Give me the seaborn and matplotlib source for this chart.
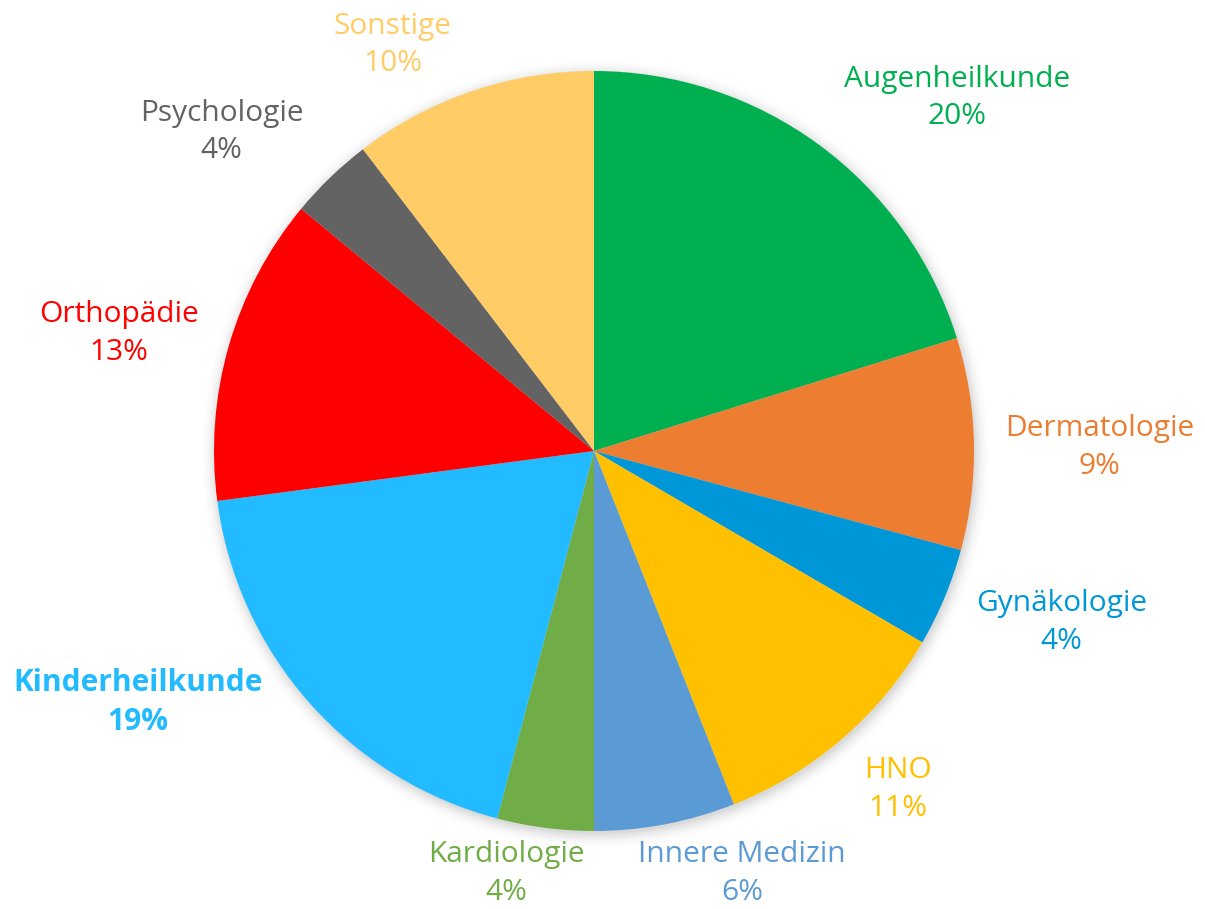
import matplotlib.pyplot as plt
import numpy as np
import seaborn as sns

# Anteile je Fachrichtung (im Uhrzeigersinn ab 12 Uhr)
categories = [
    "Augenheilkunde",
    "Dermatologie",
    "Gynäkologie",
    "HNO",
    "Innere Medizin",
    "Kardiologie",
    "Kinderheilkunde",
    "Orthopädie",
    "Psychologie",
    "Sonstige",
]
shares = [20.2, 9.0, 4.2, 10.6, 6.0, 4.1, 18.8, 13.1, 3.6, 10.4]
colors = [
    "#00B050",
    "#ED7D31",
    "#0097D9",
    "#FFC000",
    "#5B9BD5",
    "#70AD47",
    "#22BBFF",
    "#FF0000",
    "#636363",
    "#FFCC66",
]
bold = ["Kinderheilkunde"]

# Label-Positionen in Radius-Einheiten (x, y relativ zur Mitte)
label_pos = [
    (0.955, 0.929),
    (1.33, 0.009),
    (1.23, -0.451),
    (0.80, -0.891),
    (0.39, -1.112),
    (-0.23, -1.112),
    (-1.20, -0.661),
    (-1.25, 0.309),
    (-0.98, 0.839),
    (-0.53, 1.069),
]

sns.set_theme(style="white")
plt.rcParams["font.family"] = ["Open Sans", "DejaVu Sans"]

fig = plt.figure(figsize=(12.05, 9.09), dpi=100)
ax = fig.add_axes([0, 0, 1, 1])

cx, cy, r = 594, 451, 380

# leichter Schatten
for k, a in zip(np.linspace(1.035, 1.0, 8), np.linspace(0.006, 0.03, 8)):
    ax.add_patch(plt.Circle((0.004, -0.008), k, color="black", alpha=a, lw=0, zorder=0))

ax.pie(
    shares,
    colors=colors,
    startangle=90,
    counterclock=False,
    radius=1,
    center=(0, 0),
    frame=True,
    wedgeprops={"linewidth": 0, "zorder": 1},
)
ax.set_xlim(-cx / r, (1205 - cx) / r)
ax.set_ylim(-(909 - cy) / r, cy / r)
ax.set_aspect("equal")
ax.axis("off")

for name, val, col, (x, y) in zip(categories, shares, colors, label_pos):
    ax.text(
        x,
        y,
        f"{name}\n{val:.0f}%",
        color=col,
        ha="center",
        va="center",
        fontsize=21.5,
        fontweight="bold" if name in bold else "normal",
        linespacing=1.38,
    )

fig.savefig("out.png", dpi=100)
